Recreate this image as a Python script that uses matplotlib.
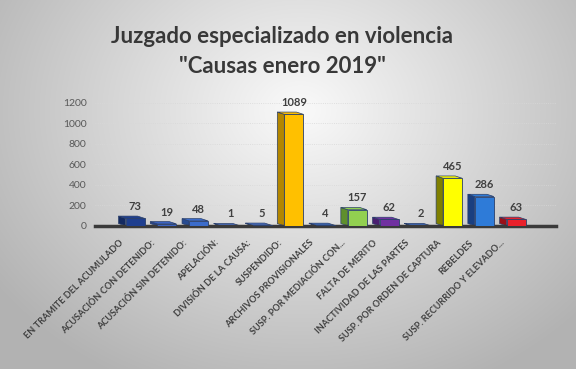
import numpy as np
import matplotlib.pyplot as plt
import matplotlib.transforms as mtransforms
from matplotlib.patches import Polygon

plt.rcParams['font.family'] = ['Lato', 'DejaVu Sans']

categories = ['EN TRAMITE DEL ACUMULADO', 'ACUSACIÓN CON DETENIDO:', 'ACUSACIÓN SIN DETENIDO:',
              'APELACIÓN:', 'DIVISIÓN DE LA CAUSA:', 'SUSPENDIDO:', 'ARCHIVOS PROVISIONALES',
              'SUSP. POR MEDIACIÓN CON...', 'FALTA DE MERITO', 'INACTIVIDAD DE LAS PARTES',
              'SUSP. POR ORDEN DE CAPTURA', 'REBELDES', 'SUSP. RECURRIDO Y ELEVADO...']
values = [73, 19, 48, 1, 5, 1089, 4, 157, 62, 2, 465, 286, 63]
colors = ['#1f3f8f', '#3a62c0', '#3b6ccb', '#4a70c8', '#4670c8', '#ffc000', '#3a6bc4',
          '#92d050', '#7030a0', '#3f6cc4', '#ffff00', '#2e7bd8', '#e8202a']
side_colors = ['#142a60', '#27438a', '#284b90', '#32508e', '#30508e', '#b38600', '#284c8c',
               '#5f8f2c', '#4a1f70', '#2b4c8c', '#7f7f00', '#1a3f80', '#9a1018']

fig = plt.figure(figsize=(5.76, 3.69), dpi=100)

# background: grey with a lighter centre
bg = fig.add_axes([0, 0, 1, 1], zorder=-1)
yy, xx = np.mgrid[0:369, 0:576]
r = np.sqrt(((xx - 300) / 320.0) ** 2 + ((yy - 110) / 260.0) ** 2)
shade = np.clip(0.98 - 0.24 * r, 0.70, 0.98)
bg.imshow(np.dstack([shade] * 3), aspect='auto', extent=[0, 1, 0, 1])
bg.axis('off')

fig.text(0.49, 0.902, 'Juzgado especializado en violencia', ha='center', va='center',
         fontsize=16, fontweight='bold', color='#383838')
fig.text(0.49, 0.819, '"Causas enero 2019"', ha='center', va='center',
         fontsize=16, fontweight='bold', color='#383838')

ax = fig.add_axes([0.165, 0.388, 0.80, 0.333])
ax.patch.set_alpha(0)
x = np.arange(len(values))
w = 0.6
dx, dy = -0.22, 22
ax.bar(x, values, width=w, color=colors, edgecolor='#2a3f6a', linewidth=0.6, zorder=3)
for xi, v, sc, c in zip(x, values, side_colors, colors):
    x0, x1 = xi - w / 2, xi + w / 2
    ax.add_patch(Polygon([(x0, 0), (x0 + dx, dy), (x0 + dx, v + dy), (x0, v)],
                         closed=True, facecolor=sc, edgecolor='#2a3f6a', linewidth=0.5, zorder=2))
    ax.add_patch(Polygon([(x0, v), (x0 + dx, v + dy), (x1 + dx, v + dy), (x1, v)],
                         closed=True, facecolor=c, edgecolor='#2a3f6a', linewidth=0.5, zorder=2))
    ax.text(xi, v + dy + 40, str(v), ha='center', va='bottom', fontsize=8,
            fontweight='bold', color='#404040')

ax.set_xlim(-1.26, 13.25)
ax.set_ylim(0, 1200)
ax.set_yticks(range(0, 1201, 200))
ax.tick_params(axis='y', length=0, labelsize=7.5, labelcolor='#595959', pad=6)
ax.set_xticks(x)
ax.set_xticklabels(categories, rotation=45, ha='right', rotation_mode='anchor',
                   fontsize=6.6, fontweight='bold', color='#404040')
ax.tick_params(axis='x', length=0, pad=9)
shift = mtransforms.ScaledTranslation(-16 / 100, 0, fig.dpi_scale_trans)
for lab in ax.get_xticklabels():
    lab.set_transform(lab.get_transform() + shift)
for s in ['top', 'right', 'left']:
    ax.spines[s].set_visible(False)
ax.spines['bottom'].set_color('#3a3a3a')
ax.spines['bottom'].set_linewidth(2.5)
ax.grid(axis='y', color='#d8d8d8', linewidth=0.6, linestyle=':', zorder=0)

fig.savefig('out.png', dpi=100)
